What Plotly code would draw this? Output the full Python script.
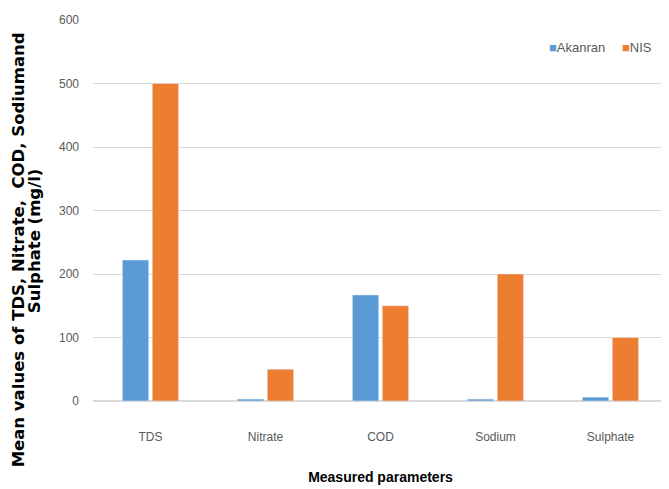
import plotly.graph_objects as go

categories = ["TDS", "Nitrate", "COD", "Sodium", "Sulphate"]
akanran = [222, 3, 167, 3, 6]
nis = [500, 50, 150, 200, 100]
y_ticks = [0, 100, 200, 300, 400, 500, 600]

narrow = "Liberation Sans Narrow, Arial Narrow, Liberation Sans, sans-serif"
blue = "#5B9BD5"
orange = "#ED7D31"

fig = go.Figure()
fig.add_trace(go.Bar(name="Akanran", x=categories, y=akanran, marker_color=blue, showlegend=False))
fig.add_trace(go.Bar(name="NIS", x=categories, y=nis, marker_color=orange, showlegend=False))

title_font = dict(family="DejaVu Sans, Verdana, sans-serif", size=16.5, color="black")
legend_font = dict(family=narrow, size=13, color="#595959")

fig.update_layout(
    width=669, height=489,
    margin=dict(l=85, r=9, t=12, b=96, autoexpand=False),
    paper_bgcolor="white", plot_bgcolor="white",
    barmode="group", bargap=0.48, bargroupgap=0.12,
    font=dict(family=narrow, size=12, color="#595959"),
    xaxis=dict(showgrid=False, showline=False, ticks="", ticklabelstandoff=27,
               title=dict(text="<b>Measured parameters</b>",
                          font=dict(family=narrow, size=14, color="black"), standoff=29)),
    yaxis=dict(range=[0, 600], tickvals=y_ticks, showgrid=True, gridcolor="#D9D9D9",
               gridwidth=1, zeroline=True, zerolinecolor="#D9D9D9", zerolinewidth=1.5,
               ticks="", ticklabelstandoff=13),
    annotations=[
        dict(text="<b>Mean values of TDS, Nitrate,  COD, Sodiumand</b>", textangle=-90,
             xref="paper", yref="paper", x=-0.13, y=0.396, xanchor="center", yanchor="middle",
             showarrow=False, font=title_font),
        dict(text="<b>Sulphate (mg/l)</b>", textangle=-90,
             xref="paper", yref="paper", x=-0.1005, y=0.420, xanchor="center", yanchor="middle",
             showarrow=False, font=title_font),
        dict(text=f"<span style='color:{blue}'>■</span>Akanran",
             xref="paper", yref="paper", x=0.79, y=0.929, xanchor="left", yanchor="middle",
             showarrow=False, font=legend_font),
        dict(text=f"<span style='color:{orange}'>■</span>NIS",
             xref="paper", yref="paper", x=0.9165, y=0.929, xanchor="left", yanchor="middle",
             showarrow=False, font=legend_font),
    ],
)

fig.write_html("out.html")
